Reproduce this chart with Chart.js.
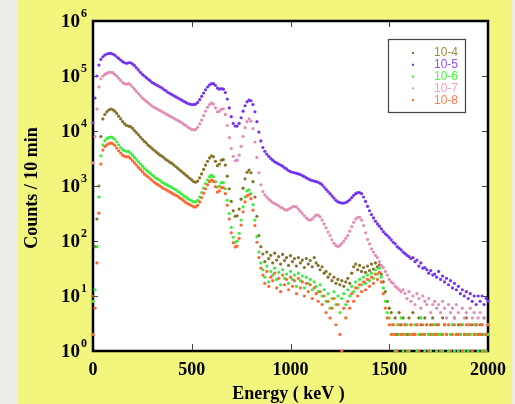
<!DOCTYPE html>
<html><head><meta charset="utf-8">
<script src="https://cdn.jsdelivr.net/npm/chart.js@4.4.1/dist/chart.umd.min.js"></script>
<style>html,body{margin:0;padding:0;background:#eeede8;}canvas{display:block;}</style>
</head><body>
<canvas id="c" width="515" height="404" style="width:515px;height:404px"></canvas>
<script>
// Energy channels (keV)
const energyKeV = [
0,10,20,30,40,50,60,70,80,90,100,110,120,130,140,150,160,170,180,190,
200,210,220,230,240,250,260,270,280,290,300,310,320,330,340,350,360,370,380,390,
400,410,420,430,440,450,460,470,480,490,500,510,520,530,540,550,560,570,580,590,
600,610,620,630,640,650,660,670,680,690,700,710,720,730,740,750,760,770,780,790,
800,810,820,830,840,850,860,870,880,890,900,910,920,930,940,950,960,970,980,990,
1000,1010,1020,1030,1040,1050,1060,1070,1080,1090,1100,1110,1120,1130,1140,1150,1160,1170,1180,1190,
1200,1210,1220,1230,1240,1250,1260,1270,1280,1290,1300,1310,1320,1330,1340,1350,1360,1370,1380,1390,
1400,1410,1420,1430,1440,1450,1460,1470,1480,1490,1500,1510,1520,1530,1540,1550,1560,1570,1580,1590,
1600,1610,1620,1630,1640,1650,1660,1670,1680,1690,1700,1710,1720,1730,1740,1750,1760,1770,1780,1790,
1800,1810,1820,1830,1840,1850,1860,1870,1880,1890,1900,1910,1920,1930,1940,1950,1960,1970,1980,1990,
2000];

const seriesLabels = ['10-4','10-5','10-6','10-7','10-8'];

const counts_1e4 = [
10,79,251,1000,7940,16600,20000,22400,24000,25100,
24500,22900,20900,18600,16600,14800,13500,12600,12300,12000,
11200,10200,9330,8510,7760,7080,6460,6030,5500,5130,
4790,4470,4170,3890,3630,3470,3240,3020,2880,2690,
2570,2400,2240,2090,1950,1820,1700,1580,1480,1380,
1290,1200,1170,1230,1410,1660,2000,2400,2820,3240,
3550,3390,2820,2340,2510,2950,3020,2400,1510,891,
525,355,282,288,380,575,912,1350,1780,1950,
1740,1200,631,282,126,79,58,42,63,48,
55,40,60,45,52,38,57,44,50,36,
54,42,48,35,50,40,45,33,48,38,
44,34,50,40,36,30,34,26,28,22,
25,19,22,17,20,16,19,15,18,21,
17,26,34,38,30,36,28,33,27,35,
29,38,31,40,34,37,25,18,12,8,
6,5,3,4,2,5,3,4,3,2,
4,3,5,2,3,4,3,2,4,3,
2,3,4,2,3,3,2,4,3,2,
3,2,3,4,2,3,2,3,2,4,
3,2,3,2,3,2,3,2,4,2,
3];

const counts_1e5 = [
14100,39800,100000,158000,200000,224000,240000,251000,257000,257000,
251000,240000,224000,209000,195000,182000,174000,170000,174000,174000,
166000,155000,141000,129000,117000,107000,100000,93300,87100,81300,
75900,72400,69200,66100,63100,60300,56200,53700,50100,47900,
45700,43700,41700,39800,38000,36300,34700,33100,31600,30900,
30200,30200,30900,33100,37200,42700,49000,56200,63100,69200,
72400,72400,67600,60300,57500,58900,57500,50100,38000,26300,
18200,13800,12300,12300,13800,17400,22900,28800,33900,36300,
35500,30200,22400,14800,9550,6610,5010,4270,3800,3470,
3160,2950,2750,2630,2510,2400,2290,2140,2040,1910,
1820,1780,1740,1700,1660,1620,1550,1480,1410,1350,
1290,1260,1230,1200,1170,1120,1050,955,871,794,
724,661,603,550,513,501,490,490,501,525,
562,617,676,724,759,759,724,631,525,427,
355,302,263,229,204,186,166,148,135,126,
115,105,95,89,79,74,69,63,59,55,
52,48,50,42,45,35,40,32,33,30,
26,29,24,25,22,28,20,23,18,21,
16,19,14,17,13,15,11,13,10,12,
9,11,8,10,7,10,8,10,7,9,
8];

const counts_1e6 = [
8,13,79,631,3550,5620,6610,7240,7590,7760,
7590,7080,6310,5620,5010,4570,4370,4270,4270,3980,
3630,3310,3020,2750,2510,2290,2090,1950,1820,1700,
1580,1480,1380,1320,1260,1170,1120,1070,1020,977,
933,891,851,794,759,708,661,631,589,562,
537,513,513,550,631,759,912,1100,1290,1480,
1580,1480,1200,955,1000,1150,1150,891,550,316,
178,117,95,100,138,240,417,631,813,851,
724,457,240,120,63,40,30,22,35,18,
28,24,32,20,27,16,30,21,25,17,
28,20,24,15,26,19,23,14,22,17,
20,13,18,15,12,16,10,13,8,11,
6,9,12,7,10,5,9,11,7,13,
10,15,12,18,14,20,16,22,17,24,
19,26,21,30,25,32,22,14,8,5,
4,3,2,1,3,2,4,1,2,3,
1,2,2,3,1,2,4,2,1,3,
2,1,2,3,1,2,2,1,3,2,
1,2,3,1,2,1,2,3,1,2,
1,2,1,3,2,1,2,1,2,1,
2];

const counts_1e7 = [
2630,7940,25100,63100,89100,100000,107000,112000,117000,117000,
115000,107000,100000,91200,83200,75900,72400,70800,72400,69200,
63100,57500,52500,47900,43700,39800,37200,34700,32400,30200,
28200,26900,25700,24500,23400,22400,21400,20400,19500,18600,
17800,17000,16200,15500,14800,14100,13200,12600,11700,11200,
10700,10500,10700,11700,13500,15800,19100,22900,26900,30200,
32400,30900,26300,22400,22900,25100,25100,20000,12600,7590,
4790,3470,2880,2950,3630,5250,7940,11500,14800,16600,
15100,11000,6310,3310,1740,1050,794,692,631,575,
537,501,479,457,437,407,398,372,363,380,
398,417,427,417,380,347,316,288,263,245,
240,251,275,295,295,275,240,204,174,145,
126,105,91,83,79,83,91,100,112,126,
151,182,219,251,269,269,240,191,141,107,
89,72,63,55,50,42,36,33,28,24,
20,18,17,15,14,13,12,13,11,9,
12,8,10,7,11,9,6,10,8,7,
9,5,7,8,6,7,5,8,6,4,
7,5,6,4,7,5,3,6,4,5,
3,6,4,5,3,4,5,3,4,2,
3];

const counts_1e8 = [
2,6,40,320,2500,4500,5250,5620,5890,6030,
5890,5500,4900,4370,3980,3630,3470,3390,3390,3160,
2880,2630,2400,2190,2000,1820,1660,1550,1450,1350,
1260,1170,1100,1050,1000,933,891,851,813,776,
741,708,676,646,603,575,537,501,479,457,
437,417,417,447,513,617,741,891,1050,1200,
1290,1200,977,776,813,933,933,724,447,251,
141,93,78,81,112,195,339,513,661,692,
589,363,191,95,50,32,24,17,28,15,
22,19,26,14,21,12,24,16,20,13,
22,15,19,11,21,14,18,10,17,12,
16,9,14,11,8,12,7,10,5,8,
4,6,9,3,7,2,1,6,4,8,
6,11,8,14,10,16,12,18,13,20,
15,22,17,25,20,27,18,11,6,4,
3,2,3,2,1,3,2,2,3,1,
2,3,2,2,3,1,2,3,2,3,
1,2,3,2,2,3,1,2,3,2,
3,1,2,3,2,2,3,1,2,3,
2,3,1,2,3,2,2,3,1,2,
3];

const xTickValues = [0, 500, 1000, 1500, 2000];
const yTickExponents = [0, 1, 2, 3, 4, 5, 6];

const seriesCounts = [counts_1e4, counts_1e5, counts_1e6, counts_1e7, counts_1e8];
const seriesColors = ['#84722a', '#7433f0', '#3cee3c', '#e38cb6', '#ff6630'];
const seriesLegendColors = ['#a08c40', '#8a55ff', '#44ff44', '#f0a0c4', '#ff8050'];
const drawOrder = [3, 4, 2, 1, 0];

const SERIF = "'Liberation Serif','Times New Roman',serif";

const datasets = seriesLabels.map((lab, i) => ({
  label: lab,
  data: energyKeV.map((e, j) => ({x: e, y: seriesCounts[i][j]})),
  backgroundColor: seriesColors[i],
  borderColor: seriesColors[i],
  pointRadius: 1.6,
  pointBorderWidth: 0,
  showLine: false,
  order: drawOrder[i],
  clip: false
}));

const decor = {
  id: 'decor',
  beforeDraw(chart) {
    const {ctx, chartArea: a} = chart;
    ctx.save();
    ctx.fillStyle = '#eeede8';
    ctx.fillRect(0, 0, chart.width, chart.height);
    ctx.fillStyle = '#f3f67c';
    ctx.fillRect(17, 0, 495, chart.height);
    ctx.fillStyle = '#ffffff';
    ctx.fillRect(a.left, a.top, a.right - a.left, a.bottom - a.top);
    ctx.restore();
  },
  beforeDatasetsDraw(chart) {
    const {ctx, chartArea: a, scales} = chart;
    ctx.save();
    ctx.strokeStyle = '#444';
    ctx.lineWidth = 1;
    ctx.beginPath();
    xTickValues.slice(1, -1).forEach(v => {
      const x = Math.round(scales.x.getPixelForValue(v)) + 0.5;
      ctx.moveTo(x, a.bottom); ctx.lineTo(x, a.bottom - 7);
      ctx.moveTo(x, a.top); ctx.lineTo(x, a.top + 6);
    });
    yTickExponents.slice(1, -1).forEach(p => {
      const y = Math.round(scales.y.getPixelForValue(Math.pow(10, p))) + 0.5;
      ctx.moveTo(a.left, y); ctx.lineTo(a.left + 5, y);
      ctx.moveTo(a.right, y); ctx.lineTo(a.right - 6, y);
    });
    ctx.stroke();
    ctx.strokeStyle = '#000';
    ctx.lineWidth = 2.5;
    ctx.strokeRect(a.left, a.top, a.right - a.left, a.bottom - a.top);
    ctx.restore();
  },
  afterDraw(chart) {
    const {ctx, chartArea: a, scales} = chart;
    ctx.save();
    ctx.fillStyle = '#000';
    // y tick labels 10^n
    yTickExponents.forEach(p => {
      const y = scales.y.getPixelForValue(Math.pow(10, p));
      ctx.font = 'bold 19px ' + SERIF;
      ctx.textAlign = 'right';
      ctx.textBaseline = 'middle';
      ctx.fillText('10', 80, y + 1);
      ctx.font = 'bold 12px ' + SERIF;
      ctx.textAlign = 'left';
      ctx.fillText(String(p), 81, y - 7);
    });
    // axis titles
    ctx.font = 'bold 18px ' + SERIF;
    ctx.textAlign = 'center';
    ctx.textBaseline = 'alphabetic';
    ctx.fillText('Energy ( keV )', (a.left + a.right) / 2 - 2, 399);
    ctx.save();
    ctx.translate(32, 188);
    ctx.rotate(-Math.PI / 2);
    ctx.textBaseline = 'middle';
    ctx.fillText('Counts / 10 min', 0, 0);
    ctx.restore();
    // legend
    ctx.strokeStyle = '#444';
    ctx.lineWidth = 1.2;
    ctx.fillStyle = '#fff';
    ctx.fillRect(388, 39, 78, 74);
    ctx.strokeRect(388.5, 39.5, 77, 73);
    ctx.font = "12px 'Liberation Sans','DejaVu Sans',sans-serif";
    ctx.textAlign = 'left';
    ctx.textBaseline = 'middle';
    chart.data.datasets.forEach((ds, i) => {
      const y = 53 + i * 11.8;
      ctx.fillStyle = seriesColors[i];
      ctx.fillRect(412, y - 1, 2, 2);
      ctx.fillStyle = seriesLegendColors[i];
      ctx.fillText(ds.label, 434, y);
    });
    ctx.restore();
  }
};

new Chart(document.getElementById('c').getContext('2d'), {
  type: 'scatter',
  data: { datasets },
  options: {
    responsive: false,
    animation: false,
    devicePixelRatio: 1,
    layout: { padding: { left: 0, right: 27, top: 21, bottom: 0 } },
    plugins: { legend: { display: false }, tooltip: { enabled: false } },
    scales: {
      x: {
        type: 'linear', min: 0, max: 2000,
        afterBuildTicks: s => { s.ticks = xTickValues.map(v => ({value: v})); },
        ticks: { color: '#000', padding: 9, maxRotation: 0, autoSkip: false,
          font: { family: SERIF, weight: 'bold', size: 18 },
          callback: v => String(v) },
        grid: { display: false, drawTicks: false },
        border: { display: false },
        afterFit: s => { s.height = 53; }
      },
      y: {
        type: 'logarithmic', min: 1, max: 1e6,
        ticks: { display: false },
        grid: { display: false, drawTicks: false },
        border: { display: false },
        afterFit: s => { s.width = 93; }
      }
    }
  },
  plugins: [decor]
});
</script>
</body></html>
